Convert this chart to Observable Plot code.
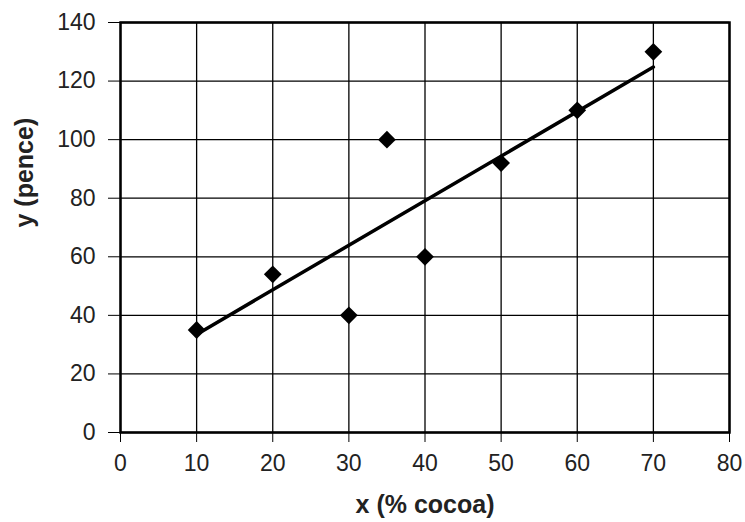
<!DOCTYPE html>
<html>
<head>
<meta charset="utf-8">
<script src="https://cdn.jsdelivr.net/npm/d3@7"></script>
<script src="https://cdn.jsdelivr.net/npm/@observablehq/plot@0.6"></script>
<style>
  html, body { margin: 0; padding: 0; background: #fff; }
</style>
</head>
<body>
<div id="chart"></div>
<script>
const cocoa = [10, 20, 30, 35, 40, 50, 60, 70];
const pence = [35, 54, 40, 100, 60, 92, 110, 130];
const lineX = [10, 70];
const lineY = [33.5, 124.8];
const xTicks = [0, 10, 20, 30, 40, 50, 60, 70, 80];
const yTicks = [0, 20, 40, 60, 80, 100, 120, 140];
const xLabel = "x (% cocoa)";
const yLabel = "y (pence)";

const points = cocoa.map((x, i) => ({x, y: pence[i]}));
const fit = lineX.map((x, i) => ({x, y: lineY[i]}));

const chart = Plot.plot({
  width: 745,
  height: 522,
  marginLeft: 120,
  marginRight: 16,
  marginTop: 22,
  marginBottom: 90,
  style: {fontFamily: "'Liberation Sans', Arial, sans-serif", fontSize: "23px", color: "#222", background: "#fff"},
  x: {domain: [0, 80]},
  y: {domain: [0, 140]},
  marks: [
    Plot.gridX(xTicks, {stroke: "#000", strokeOpacity: 1, strokeWidth: 1.3}),
    Plot.gridY(yTicks, {stroke: "#000", strokeOpacity: 1, strokeWidth: 1.3}),
    Plot.axisX({ticks: xTicks, tickSize: 10, tickPadding: 12, label: null, fontSize: 23, stroke: "#000"}),
    Plot.axisY({ticks: yTicks, tickSize: 12, tickPadding: 13, label: null, fontSize: 23, stroke: "#000"}),
    Plot.frame({stroke: "#000", strokeWidth: 2.5}),
    Plot.line(fit, {x: "x", y: "y", stroke: "#000", strokeWidth: 3.5}),
    Plot.dot(points, {x: "x", y: "y", symbol: "diamond2", r: 8, fill: "#000", stroke: null}),
    Plot.text([xLabel], {frameAnchor: "bottom", dy: 80, fontWeight: "bold", fontSize: 25, fill: "#222"}),
    Plot.text([yLabel], {frameAnchor: "left", dx: -96, rotate: -90, fontWeight: "bold", fontSize: 25, fill: "#222"})
  ]
});
document.getElementById("chart").appendChild(chart);
</script>
</body>
</html>
